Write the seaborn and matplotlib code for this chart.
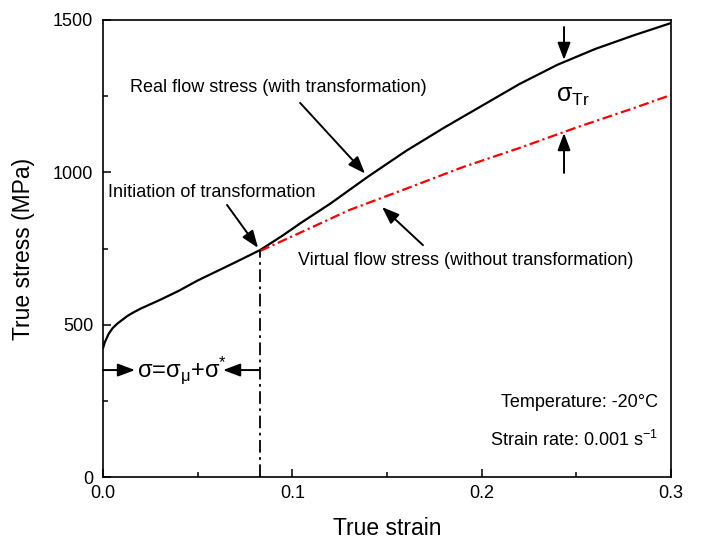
import matplotlib
matplotlib.use("Agg")
import matplotlib.pyplot as plt
import seaborn as sns
import pandas as pd
from matplotlib.ticker import AutoMinorLocator

# ---- data ----
real_strain = [0.0, 0.001, 0.003, 0.005, 0.0075, 0.01, 0.013, 0.016, 0.02, 0.025, 0.03,
               0.04, 0.05, 0.06, 0.07, 0.083, 0.095, 0.105, 0.12, 0.14, 0.16, 0.18,
               0.20, 0.22, 0.24, 0.26, 0.28, 0.30]
real_stress = [423, 443, 470, 488, 503, 515, 529, 540, 553, 567, 581,
               611, 645, 675, 705, 745, 793, 836, 897, 986, 1070, 1146,
               1218, 1290, 1353, 1405, 1449, 1490]

virtual_strain = [0.083, 0.10, 0.13, 0.16, 0.19, 0.22, 0.25, 0.28, 0.30]
virtual_stress = [742, 790, 876, 946, 1017, 1080, 1147, 1210, 1254]

init_strain = 0.083
init_stress = 745

x_ticks = [0.0, 0.1, 0.2, 0.3]
x_tick_labels = ["0.0", "0.1", "0.2", "0.3"]
y_ticks = [0, 500, 1000, 1500]
y_tick_labels = ["0", "500", "1000", "1500"]

real_df = pd.DataFrame({"strain": real_strain, "stress": real_stress})
virt_df = pd.DataFrame({"strain": virtual_strain, "stress": virtual_stress})

sns.set_theme(style="ticks")
plt.rcParams["font.family"] = ["Liberation Sans", "DejaVu Sans"]
plt.rcParams["mathtext.fontset"] = "custom"
plt.rcParams["mathtext.rm"] = "Liberation Sans"
plt.rcParams["mathtext.it"] = "Liberation Sans"
plt.rcParams["mathtext.sf"] = "Liberation Sans"
for k in ["text.color", "axes.labelcolor", "xtick.color", "ytick.color", "axes.edgecolor"]:
    plt.rcParams[k] = "black"

fig = plt.figure(figsize=(7.02, 5.43), dpi=100)
ax = fig.add_axes([103 / 702, 1 - 477 / 543, 568 / 702, 457 / 543])

sns.lineplot(data=real_df, x="strain", y="stress", ax=ax, color="black",
             linewidth=1.6, sort=False)
sns.lineplot(data=virt_df, x="strain", y="stress", ax=ax, color="#ff0000",
             linewidth=1.6, sort=False, linestyle=(0, (4.5, 1.6, 1.0, 1.6)))

# vertical dash-dot line at initiation
ax.plot([init_strain, init_strain], [0, init_stress], color="black", lw=1.3,
        linestyle=(0, (7, 2.5, 1.5, 2.5)))

ax.set_xlim(0, 0.3)
ax.set_ylim(0, 1500)
ax.set_xticks(x_ticks)
ax.set_xticklabels(x_tick_labels)
ax.set_yticks(y_ticks)
ax.set_yticklabels(y_tick_labels)
ax.xaxis.set_minor_locator(AutoMinorLocator(2))
ax.yaxis.set_minor_locator(AutoMinorLocator(2))
ax.tick_params(which="major", direction="in", length=6, width=1.1,
               labelsize=13, colors="black")
ax.tick_params(which="minor", direction="in", length=3.5, width=1.1)
ax.tick_params(axis="x", which="major", pad=6)
ax.tick_params(axis="y", which="major", pad=7)
for s in ax.spines.values():
    s.set_linewidth(1.2)
    s.set_color("black")

ax.set_xlabel("True strain", fontsize=16.5)
ax.set_ylabel("True stress (MPa)", fontsize=16.5)
ax.xaxis.set_label_coords(0.5, -0.088)
ax.yaxis.set_label_coords(-0.12, 0.5)

ap = dict(arrowstyle="-|>,head_length=0.8,head_width=0.3", color="black",
          lw=1.4, mutation_scale=13, shrinkA=0, shrinkB=0)

# annotations
ax.text(0.0143, 1277, "Real flow stress (with transformation)", fontsize=13,
        va="center", ha="left")
ax.annotate("", xy=(0.1384, 996), xytext=(0.1041, 1228), arrowprops=ap)

ax.text(0.0026, 935, "Initiation of transformation", fontsize=13,
        va="center", ha="left")
ax.annotate("", xy=(0.0819, 752), xytext=(0.0655, 893), arrowprops=ap)

ax.text(0.103, 712, "Virtual flow stress (without transformation)", fontsize=13,
        va="center", ha="left")
ax.annotate("", xy=(0.1474, 886), xytext=(0.169, 761), arrowprops=ap)

ax.annotate("", xy=(0.2435, 1369), xytext=(0.2435, 1477), arrowprops=ap)
ax.annotate("", xy=(0.2435, 1129), xytext=(0.2435, 998), arrowprops=ap)
ax.text(0.2395, 1250, "\u03c3$_{\\mathregular{Tr}}$", fontsize=18,
        va="center", ha="left")

ax.annotate("", xy=(0.0169, 351), xytext=(0.0, 351), arrowprops=ap)
ax.annotate("", xy=(0.0634, 351), xytext=(0.0824, 351), arrowprops=ap)
ax.text(0.0178, 351, "\u03c3=\u03c3$_{\\mathregular{\u03bc}}$+\u03c3$^{\\mathregular{*}}$",
        fontsize=17, va="center", ha="left")

ax.text(0.2932, 243, "Temperature: -20\u00b0C", fontsize=13, va="center", ha="right")
ax.text(0.2932, 121, "Strain rate: 0.001 s$^{\\mathregular{-1}}$", fontsize=13,
        va="center", ha="right")

fig.savefig("out.png", dpi=100)
